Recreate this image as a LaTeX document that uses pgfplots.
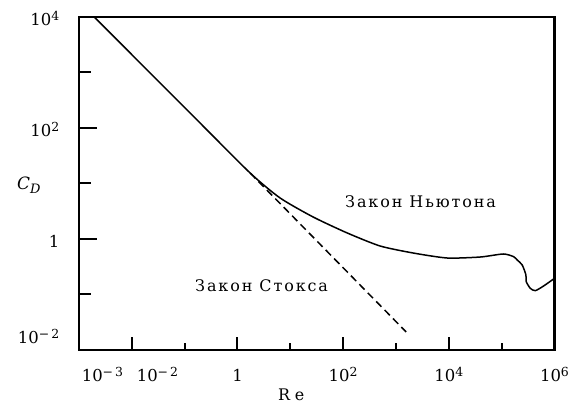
\documentclass[border=0pt]{standalone}
\usepackage{fontspec}
\setmainfont{DejaVu Serif}
\newfontfamily\spaced[LetterSpace=12]{DejaVu Serif}
\newfontfamily\wide[LetterSpace=30]{DejaVu Serif}
\usepackage{pgfplots}
\pgfplotsset{compat=1.18}
\newcommand\ex[1]{\raisebox{5bp}{\fontsize{12.5}{13}\selectfont #1}}
\newcommand\tl{\fontsize{16.5}{19}\selectfont}

\begin{document}
\begin{tikzpicture}
\useasboundingbox (-79bp,-53bp) rectangle (496bp,350bp);
\begin{axis}[
    at={(0,0)}, anchor=south west,
    scale only axis,
    width=475.5bp, height=333.3bp,
    xmode=log, ymode=log,
    xmin=1e-3, xmax=1e6,
    ymin=1e-2, ymax=1e4,
    axis line style={line width=2.2bp},
    tick pos=left,
    tick align=inside,
    every tick/.style={black, line width=2bp},
    x tick style={/pgfplots/major tick length=13bp, /pgfplots/minor tick length=7bp},
    y tick style={/pgfplots/major tick length=18bp, /pgfplots/minor tick length=12bp},
    tick label style={font=\tl, inner sep=0pt},
    xtick={1e-2,1,1e2,1e4,1e6},
    xticklabels={{},1,10\ex{2},10\ex{4},10\ex{6}},
    minor xtick={1e-1,10,1e3,1e5},
    xticklabel style={anchor=base, yshift=-31bp},
    ytick={1e-2,1,1e2,1e4},
    yticklabels={{},1,10\ex{2},10\ex{4}},
    minor ytick={1e-1,10,1e3},
    yticklabel style={anchor=base east, xshift=-19.5bp, yshift=-9bp},
]

% drag curve (Newton regime)
\addplot[black, line width=1.5bp, smooth, tension=0.4] coordinates {
    (0.00192,10000) (0.172,138) (1.73,15.4) (6.41,5.45) (27.0,2.48)
    (119,1.28) (501,0.745) (2120,0.557) (9330,0.453) (3.94e4,0.472)
    (1.07e5,0.535) (1.68e5,0.479) (1.97e5,0.417) (2.45e5,0.339)
    (2.88e5,0.224) (2.92e5,0.170) (3.48e5,0.129) (4.33e5,0.117)
    (6.22e5,0.142) (1e6,0.195)
};

% Stokes law
\addplot[black, line width=1.5bp, dash pattern=on 7.5bp off 4.5bp] coordinates {
    (1.73,15.4) (1560,0.0211)
};

\end{axis}

% texts, in bp from the lower left corner of the axis
\begin{scope}[every node/.style={inner sep=0pt}]
\node[anchor=base west, font=\spaced\fontsize{16}{19}\selectfont]
    at (266bp,142bp) {Закон Ньютона};
\node[anchor=base west, font=\spaced\fontsize{16}{19}\selectfont]
    at (116bp,58bp) {Закон Стокса};
\node[anchor=base west, font=\wide\fontsize{16}{19}\selectfont]
    at (199bp,-50bp) {Re};
\node[anchor=base west, font=\fontsize{17}{19}\selectfont]
    at (-62bp,160bp) {\textit{C}\raisebox{-4bp}{\fontsize{13}{13}\selectfont\textit{D}}};
\node[anchor=base, font=\tl] at (23.5bp,-31bp) {10\ex{−\,3}};
\node[anchor=base, font=\tl] at (78.5bp,-31bp) {10\ex{−\,2}};
\node[anchor=base east, font=\tl] at (-19.5bp,7bp) {10\ex{−\,2}};
\end{scope}
\end{tikzpicture}
\end{document}
